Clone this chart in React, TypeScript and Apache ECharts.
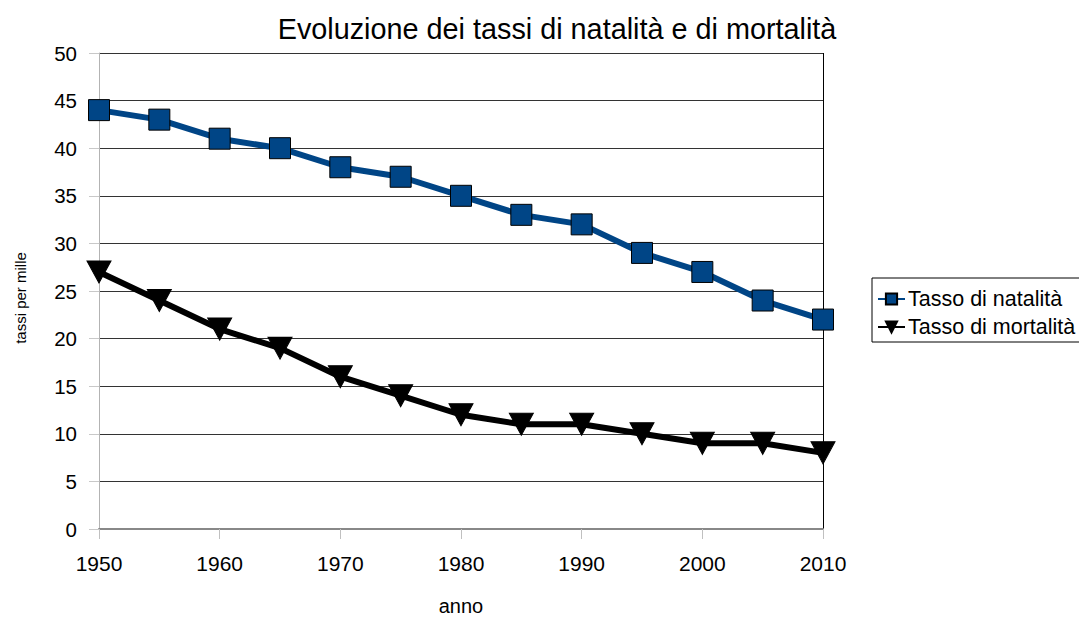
import React, { useEffect, useRef } from "react";
import * as echarts from "echarts";

const years = [1950, 1955, 1960, 1965, 1970, 1975, 1980, 1985, 1990, 1995, 2000, 2005, 2010];
const natalita = [44, 43, 41, 40, 38, 37, 35, 33, 32, 29, 27, 24, 22];
const mortalita = [27, 24, 21, 19, 16, 14, 12, 11, 11, 10, 9, 9, 8];

const FONT = "Liberation Sans, Arial, sans-serif";

export default function App() {
  const ref = useRef<HTMLDivElement>(null);
  useEffect(() => {
    const chart = echarts.init(ref.current!, null, { renderer: "svg" });
    chart.setOption({
      animation: false,
      backgroundColor: "#ffffff",
      textStyle: { fontFamily: FONT },
      legend: {
        orient: "vertical",
        left: 872,
        top: 278,
        padding: [10, 8, 4, 5],
        borderColor: "#000",
        borderWidth: 1,
        itemWidth: 27,
        itemHeight: 14,
        itemGap: 6,
        textStyle: { fontFamily: FONT, fontSize: 21.5, color: "#000", padding: [0, 0, 0, -2] },
        data: ["Tasso di natalità", "Tasso di mortalità"],
      },
      grid: { left: 99, right: 256, top: 53, bottom: 88, containLabel: false, outerBoundsMode: "none" },
      xAxis: {
        type: "value",
        min: 1950,
        max: 2010,
        interval: 10,
        name: "anno",
        nameLocation: "middle",
        nameGap: 67,
        nameTextStyle: { fontFamily: FONT, fontSize: 20, color: "#000" },
        axisLine: { lineStyle: { color: "#888", width: 2 } },
        axisTick: { show: true, length: 10, lineStyle: { color: "#c0c0c0" } },
        axisLabel: { fontFamily: FONT, fontSize: 21, color: "#000", margin: 24, formatter: (v: number) => String(v) },
        splitLine: { show: false },
      },
      yAxis: {
        type: "value",
        min: 0,
        max: 50,
        interval: 5,
        axisLine: { show: true, lineStyle: { color: "#b3b3b3", width: 1 } },
        axisTick: { show: true, length: 10, lineStyle: { color: "#c8c8c8" } },
        axisLabel: { fontFamily: FONT, fontSize: 20.5, color: "#000", margin: 22 },
        splitLine: { show: true, lineStyle: { color: "#333", width: 1 } },
      },
      graphic: [
        {
          type: "text",
          x: 557,
          y: 29,
          style: {
            text: "Evoluzione dei tassi di natalità e di mortalità",
            fontFamily: FONT,
            fontSize: 28.8,
            fill: "#000",
            align: "center",
            verticalAlign: "middle",
          },
        },
        {
          type: "text",
          x: 20,
          y: 298,
          rotation: Math.PI / 2,
          style: {
            text: "tassi per mille",
            fontFamily: FONT,
            fontSize: 15,
            fill: "#000",
            align: "center",
            verticalAlign: "middle",
          },
        },
        {
          type: "line",
          shape: { x1: 823.5, y1: 53, x2: 823.5, y2: 529 },
          style: { stroke: "#000", lineWidth: 1 },
        },
      ],
      series: [
        {
          name: "Tasso di natalità",
          type: "line",
          data: years.map((y, i) => [y, natalita[i]]),
          symbol: "rect",
          symbolSize: 21,
          showAllSymbol: true,
          lineStyle: { color: "#004586", width: 6 },
          itemStyle: { color: "#004586", borderColor: "#000", borderWidth: 1 },
        },
        {
          name: "Tasso di mortalità",
          type: "line",
          data: years.map((y, i) => [y, mortalita[i]]),
          symbol: "triangle",
          symbolRotate: 180,
          symbolSize: [24, 22],
          showAllSymbol: true,
          lineStyle: { color: "#000", width: 6 },
          itemStyle: { color: "#000", borderColor: "#000", borderWidth: 1 },
        },
      ],
    });
    return () => chart.dispose();
  }, []);
  return <div ref={ref} style={{ width: 1079, height: 617, position: "absolute", left: 0, top: 0 }} />;
}
